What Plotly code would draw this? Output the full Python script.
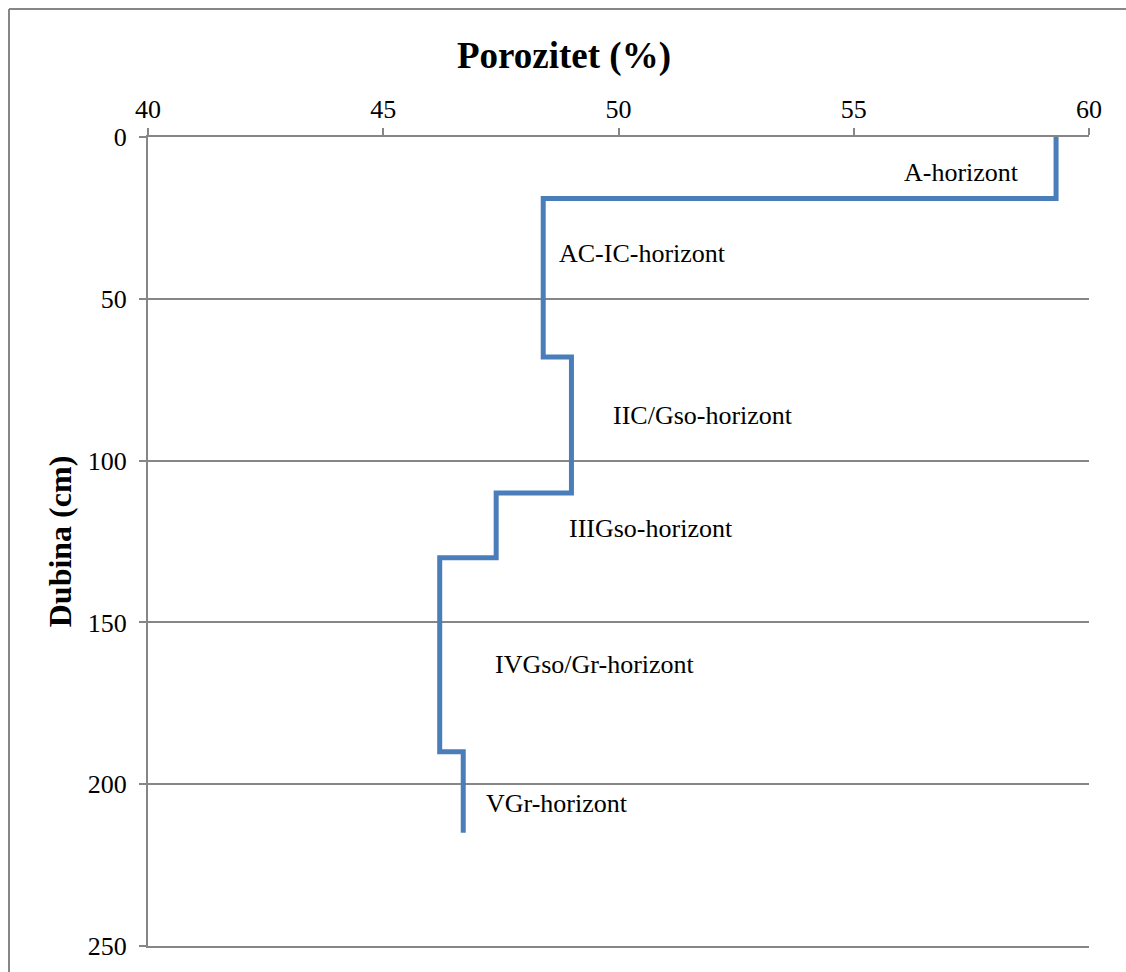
import plotly.graph_objects as go

# horizons of the soil profile
horizons = ["A-horizont", "AC-IC-horizont", "IIC/Gso-horizont",
            "IIIGso-horizont", "IVGso/Gr-horizont", "VGr-horizont"]
depth_top = [0, 19, 68, 110, 130, 190]
depth_bottom = [19, 68, 110, 130, 190, 215]
porosity = [59.3, 48.4, 49.0, 47.4, 46.2, 46.7]

x_ticks = [40, 45, 50, 55, 60]
y_ticks = [0, 50, 100, 150, 200, 250]

# step profile: each horizon is a vertical segment
xs, ys = [], []
for p, t, b in zip(porosity, depth_top, depth_bottom):
    xs += [p, p]
    ys += [t, b]

fig = go.Figure()
fig.add_trace(go.Scatter(
    x=xs, y=ys, mode="lines",
    line=dict(color="#4A7EBB", width=5),
    hoverinfo="skip", showlegend=False
))

# label placement (porosity, depth)
label_pos = [(57.3, 11), (50.5, 36), (51.8, 86), (50.7, 121), (49.5, 163), (48.7, 206)]
for name, (lx, ly) in zip(horizons, label_pos):
    fig.add_annotation(x=lx, y=ly, text=name, showarrow=False,
                       font=dict(family="Liberation Serif", size=26, color="black"))

grey = "#868686"
W, H = 1126, 972
L, T, PW, PH = 148, 137, 941, 809
bx = (9 - L) / PW
by = 1 + (T - 9) / PH
fig.update_layout(
    width=W, height=H,
    margin=dict(l=L, r=W - L - PW, t=T, b=H - T - PH),
    paper_bgcolor="white", plot_bgcolor="white",
    font=dict(family="Liberation Serif", size=26, color="black"),
    title=dict(text="<b>Porozitet (%)</b>", x=564 / W, xanchor="center",
               y=1 - 55 / H, yanchor="middle",
               font=dict(family="Liberation Serif", size=37, color="black")),
    xaxis=dict(side="top", range=[40, 60], tickvals=x_ticks,
               showgrid=False, zeroline=False,
               showline=True, linecolor=grey, linewidth=2, mirror=True,
               ticks="outside", ticklen=7, tickcolor=grey, tickwidth=2),
    yaxis=dict(range=[250, 0], tickvals=y_ticks,
               showgrid=True, gridcolor=grey, gridwidth=2, zeroline=False,
               showline=True, linecolor=grey, linewidth=2,
               ticks="outside", ticklen=7, tickcolor=grey, tickwidth=2,
               ticklabelstandoff=7,
               title=dict(text="<b>Dubina (cm)</b>", standoff=7,
                          font=dict(family="Liberation Serif", size=32, color="black"))),
    shapes=[
        # outer chart frame (top and left edges)
        dict(type="line", xref="paper", yref="paper", x0=bx, x1=1.2, y0=by, y1=by,
             line=dict(color=grey, width=2), layer="below"),
        dict(type="line", xref="paper", yref="paper", x0=bx, x1=bx, y0=-0.2, y1=by,
             line=dict(color=grey, width=2), layer="below"),
    ],
)

fig.write_html("out.html", config={"displayModeBar": False},
               post_script="document.body.style.margin='0';"
                           "document.body.style.overflow='hidden';")
